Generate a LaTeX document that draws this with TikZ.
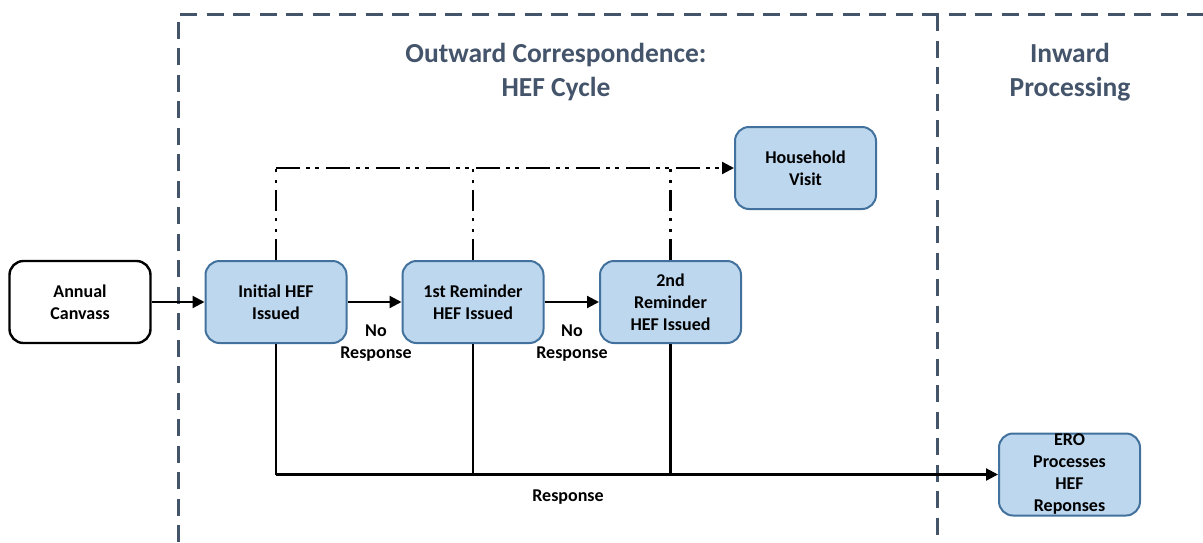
\documentclass[tikz,border=0pt]{standalone}
\usepackage{fontspec}
\setmainfont{Carlito}
\usetikzlibrary{arrows.meta}
\definecolor{frame}{HTML}{44546A}
\definecolor{boxfill}{HTML}{BDD7EE}
\definecolor{boxdraw}{HTML}{41719C}
\begin{document}
\begin{tikzpicture}[x=1pt,y=-1pt,
 box/.style={rectangle, rounded corners=14pt, minimum width=141pt, minimum height=82pt, line width=2pt, align=center, font=\bfseries\fontsize{18}{22}\selectfont, inner sep=0pt},
 bluebox/.style={box, draw=boxdraw, fill=boxfill},
 whitebox/.style={box, draw=black, fill=white, line width=2.4pt},
 lbl/.style={align=center, font=\bfseries\fontsize{18}{22}\selectfont, inner sep=0pt},
 titletext/.style={align=center, text=frame, font=\bfseries\fontsize{27.5}{34}\selectfont},
 frameline/.style={draw=frame, line width=3pt, dash pattern=on 17pt off 9.5pt},
 flow/.style={line width=2.2pt, -{Triangle[length=12pt,width=12pt]}},
 plainline/.style={line width=2.2pt},
 dashdoth/.style={line width=2.2pt, dash pattern=on 24pt off 6pt on 4pt off 5pt on 4pt off 7pt},
 dashdotv/.style={line width=2.2pt, dash pattern=on 21pt off 7pt on 3pt off 8pt on 3pt off 7pt},
]
\useasboundingbox (0,0) rectangle (1203,542);
% frame
\coordinate (fbl) at (178,542);
\coordinate (ftl) at (178,14);
\coordinate (ftr) at (1203,14);
\coordinate (fmt) at (937,14);
\coordinate (fmb) at (937,542);
\draw[frameline] (fbl) -- (ftl) -- (ftr);
\draw[frameline] (fmt) -- (fmb);
% titles
\node[titletext] (t1) at (556,72) {Outward Correspondence:\\HEF Cycle};
\node[titletext] (t2) at (1070,72) {Inward\\Processing};
% boxes
\node[whitebox] (ac) at (80,302) {Annual\\Canvass};
\node[bluebox] (init) at (276,302) {Initial HEF\\Issued};
\node[bluebox] (rem1) at (473,302) {1st Reminder\\HEF Issued};
\node[bluebox] (rem2) at (670.5,302) {2nd\\Reminder\\HEF Issued};
\node[bluebox] (hv) at (805.5,168) {Household\\Visit};
\node[bluebox] (ero) at (1069.5,474.5) {};
\node[lbl] (erotext) at (ero.center) {ERO\\Processes\\HEF\\Reponses};
% main flow
\draw[flow] (ac) -- (init);
\draw[flow] (init) -- (rem1);
\draw[flow] (rem1) -- (rem2);
\node[lbl] (nr1) at (376,343) {No\\Response};
\node[lbl] (nr2) at (572,343) {No\\Response};
% household visit
\coordinate (c1) at (init.north |- hv.west);
\coordinate (c2) at (rem1.north |- hv.west);
\coordinate (c3) at (rem2.north |- hv.west);
\draw[dashdotv] (init.north) -- (c1);
\draw[dashdotv] (rem1.north) -- (c2);
\draw[dashdotv] (rem2.north) -- (c3);
\draw[dashdoth, -{Triangle[length=12pt,width=12pt]}] (c1) -- (hv.west);
% responses
\coordinate (r1) at (init.south |- ero.west);
\coordinate (r2) at (rem1.south |- ero.west);
\coordinate (r3) at (rem2.south |- ero.west);
\draw[plainline] (init.south) -- (r1);
\draw[plainline] (rem1.south) -- (r2);
\draw[plainline] (rem2.south) -- (r3);
\draw[flow] (r1) -- (ero.west);
\node[lbl] (resp) at (568,497) {Response};
\end{tikzpicture}
\end{document}
